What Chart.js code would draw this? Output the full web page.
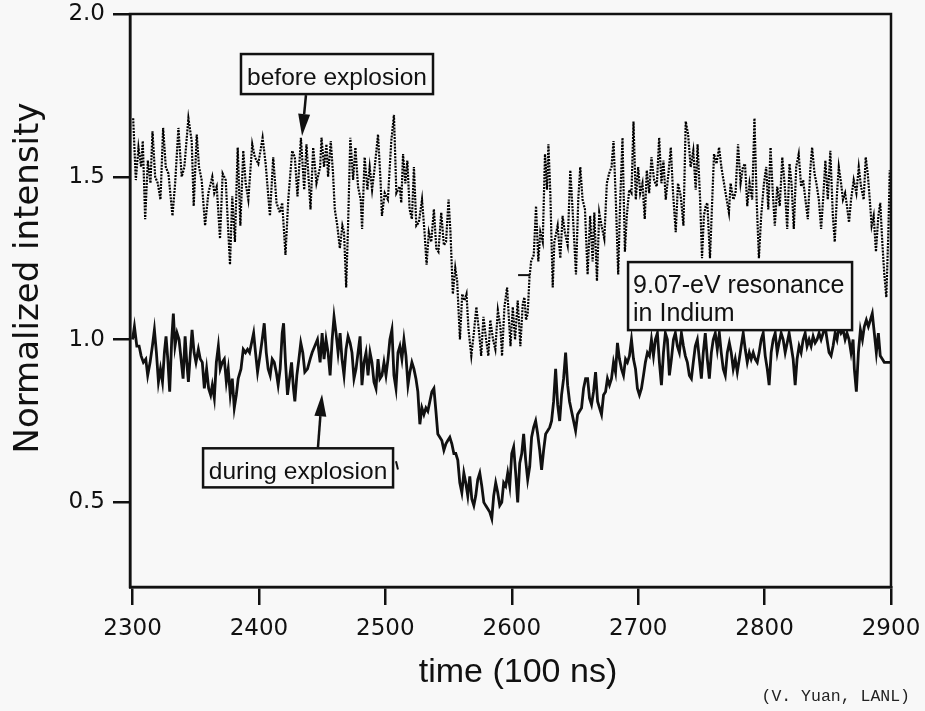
<!DOCTYPE html>
<html>
<head>
<meta charset="utf-8">
<script src="https://cdn.jsdelivr.net/npm/chart.js@4.4.1/dist/chart.umd.min.js"></script>
<style>
html,body{margin:0;padding:0;background:#f8f8f8;}
#wrap{width:925px;height:711px;position:relative;}
canvas{display:block;}
</style>
</head>
<body>
<div id="wrap"><canvas id="c" width="925" height="711"></canvas></div>
<script>
// ---- tick labels and titles ----
const xTicks = [2300, 2400, 2500, 2600, 2700, 2800, 2900];
const yTicks = [0.5, 1.0, 1.5, 2.0];
const xTitle = 'time (100 ns)';
const yTitle = 'Normalized intensity';
const seriesNames = ['before explosion', 'during explosion'];

// ---- "before explosion" (dotted) : time (100 ns) and normalized intensity ----
const beforeT = [
2300.5,2302.6,2304.7,2306.8,2308.1,2310.0,2312.1,2314.2,2315.8,2317.9,
2320.0,2322.1,2324.2,2326.3,2328.4,2331.6,2333.7,2336.3,2338.9,2341.0,
2344.2,2346.8,2348.4,2350.8,2352.6,2354.7,2357.4,2360.0,2363.1,2364.7,
2366.6,2369.2,2371.3,2373.7,2377.1,2378.9,2381.0,2383.2,2385.3,2387.6,
2389.5,2391.6,2394.7,2396.8,2399.5,2402.9,2405.3,2408.7,2411.3,2413.9,
2416.6,2418.4,2421.0,2423.2,2426.3,2428.4,2430.5,2433.2,2435.8,2437.6,
2440.8,2442.9,2445.5,2448.4,
2449.5,2451.5,2453.4,2454.7,2456.8,2458.6,2460.0,2462.0,2464.0,2466.0,
2467.3,2469.0,2470.5,2472.3,2474.5,2476.3,2478.4,2480.5,2481.6,2483.6,
2485.8,2487.6,2489.5,2491.6,2494.2,2496.3,2497.3,2499.5,2502.0,2504.7,
2506.8,2508.7,2511.3,2512.6,2514.0,2515.8,2517.4,2519.2,2521.0,2522.6,
2524.5,2526.5,2529.0,2531.0,2532.6,2534.4,2536.3,2538.4,2540.3,2542.0,
2544.2,2546.3,2548.0,2550.0,2551.5,2553.4,2555.3,2556.8,2559.0,2560.8,
2562.6,2564.2,2565.8,2568.0,2570.0,2572.0,2574.2,2575.8,2577.6,2579.7,
2581.5,2583.0,2585.2,2587.0,2589.0,2591.0,2592.3,2594.2,2596.3,
2599.0,2600.8,2602.6,2604.7,2606.8,2608.7,2610.0,2611.3,2612.6,2614.0,
2615.3,2617.4,2619.2,2621.0,2622.6,2624.5,2626.3,2627.9,2629.0,2630.5,
2632.4,2633.7,2636.3,2638.4,2640.2,2642.0,2644.2,2646.3,2648.1,2650.8,
2652.6,2654.2,2656.0,2657.9,2660.0,2662.0,2664.0,2665.3,2667.4,2669.2,
2671.0,2673.2,2675.2,2677.0,2678.9,2680.5,2682.3,2684.2,2685.8,2687.6,
2689.5,2691.0,2692.9,2694.7,2696.3,2698.1,2700.0,2701.6,2703.4,2705.2,
2706.8,2708.7,2710.5,2712.6,2714.7,2716.6,2718.4,2720.0,2721.8,2723.7,
2725.8,2727.6,2729.7,2731.5,2733.7,2735.8,2737.6,2739.5,2741.5,2743.6,
2745.5,
2747.0,2749.0,2750.5,2752.0,2753.4,2754.7,2756.8,2758.6,2760.0,2762.0,
2764.0,2765.8,2767.9,2770.0,2771.8,2773.1,2775.3,2777.0,2779.0,2781.0,
2782.9,2784.5,2786.3,2788.1,2790.2,2792.0,2793.7,2795.5,2797.3,2799.5,
2801.3,2802.9,2804.7,2806.5,2808.1,2810.0,2812.0,2814.0,2815.8,2817.9,
2819.7,2821.3,2823.1,2825.0,2827.0,2828.9,2830.5,2832.3,2834.2,2836.3,
2837.6,2839.5,2841.0,2842.9,2844.7,2846.3,2848.1,2850.0,2852.0,2854.0,
2855.5,2857.3,2858.7,2860.5,2862.0,2863.7,2865.2,2866.8,2868.4,2870.5,
2872.6,2874.5,2876.3,2878.4,2880.0,2881.6,2883.2,2884.7,2886.3,2888.1,
2890.0,2891.5,2893.1,2894.7,2896.3,2897.9,2899.0,2900.0
];
const beforeV = [
1.68,1.49,1.59,1.53,1.61,1.37,1.55,1.48,1.64,1.50,
1.48,1.43,1.65,1.53,1.51,1.38,1.48,1.65,1.50,1.53,
1.68,1.61,1.41,1.63,1.53,1.49,1.35,1.45,1.50,1.45,
1.47,1.31,1.51,1.49,1.23,1.44,1.30,1.59,1.35,1.58,
1.48,1.43,1.60,1.56,1.54,1.62,1.54,1.38,1.56,1.42,
1.39,1.42,1.26,1.43,1.58,1.56,1.44,1.62,1.46,1.60,
1.40,1.59,1.48,1.53,
1.62,1.53,1.60,1.50,1.61,1.51,1.40,1.35,1.28,1.35,
1.33,1.16,1.35,1.62,1.49,1.59,1.47,1.43,1.34,1.56,
1.46,1.53,1.46,1.53,1.63,1.48,1.38,1.45,1.43,1.61,
1.69,1.45,1.47,1.42,1.57,1.48,1.55,1.40,1.37,1.53,
1.35,1.36,1.43,1.33,1.23,1.33,1.30,1.40,1.28,1.27,
1.39,1.29,1.30,1.43,1.33,1.14,1.22,1.18,1.00,1.14,
1.12,1.14,1.03,0.95,1.02,1.10,1.02,0.95,1.07,1.00,
0.95,1.06,1.00,0.97,1.09,1.04,0.95,1.10,1.16,
0.98,1.10,1.00,1.12,0.98,1.11,1.13,1.06,1.08,1.19,
1.24,1.26,1.41,1.24,1.33,1.30,1.57,1.46,1.60,1.45,
1.16,1.30,1.35,1.25,1.38,1.33,1.29,1.52,1.40,1.20,
1.43,1.53,1.43,1.40,1.20,1.38,1.24,1.39,1.18,1.39,
1.35,1.31,1.48,1.51,1.53,1.61,1.43,1.20,1.43,1.62,
1.27,1.38,1.46,1.45,1.67,1.43,1.53,1.45,1.48,1.37,
1.52,1.45,1.56,1.49,1.47,1.62,1.48,1.55,1.43,1.50,
1.59,1.45,1.33,1.48,1.44,1.35,1.67,1.63,1.53,1.58,
1.46,
1.60,1.43,1.25,1.38,1.41,1.42,1.25,1.43,1.57,1.54,
1.59,1.53,1.48,1.43,1.39,1.48,1.43,1.45,1.60,1.48,
1.53,1.54,1.41,1.48,1.43,1.68,1.43,1.25,1.38,1.48,
1.53,1.40,1.59,1.45,1.35,1.47,1.41,1.56,1.48,1.34,
1.54,1.48,1.34,1.53,1.57,1.47,1.49,1.43,1.37,1.53,
1.59,1.51,1.48,1.43,1.34,1.43,1.55,1.43,1.58,1.38,
1.30,1.45,1.53,1.48,1.43,1.45,1.41,1.36,1.43,1.49,
1.45,1.53,1.47,1.43,1.56,1.51,1.43,1.35,1.38,1.27,
1.38,1.42,1.30,1.20,1.13,1.33,1.52,1.43
];

// ---- "during explosion" (solid) ----
const duringT = [
2300.0,2301.5,2303.4,2305.2,2306.8,2308.6,2310.5,2312.0,2313.9,2315.7,
2317.3,2318.9,2320.5,2322.1,2323.7,2325.2,2326.5,2327.9,2329.4,2331.0,
2332.3,2333.6,2335.2,2336.8,2338.4,2340.0,2341.6,2342.9,2344.2,2345.8,
2347.1,2348.7,2350.2,2352.1,2353.6,2355.2,2356.8,2358.6,2360.2,2361.8,
2363.1,2364.7,2366.3,2367.9,2369.4,2371.0,2372.6,2374.2,2375.7,2377.3,
2378.9,2380.5,2382.1,2383.6,2385.8,2387.6,2389.4,2391.0,2392.6,2394.2,
2395.8,2397.3,2398.9,2400.8,2402.6,2404.2,2405.8,2407.3,2408.9,2410.5,
2412.1,2413.7,2415.2,2416.8,2418.4,2419.5,2421.0,2422.6,2424.2,2425.8,
2427.3,2428.4,2430.0,2431.6,2433.1,2434.7,2436.3,2438.4,2440.5,2442.1,
2444.2,2446.3,
2448.4,2450.0,2451.5,2453.1,2454.7,2456.3,2457.9,2459.4,2461.0,2462.6,
2464.2,2465.7,2467.3,2468.9,2470.5,2472.1,2473.6,2475.2,2476.8,2478.4,
2480.0,2481.5,2483.1,2484.7,2486.3,2487.9,2489.4,2491.0,2492.6,2494.2,
2495.7,2497.3,2498.9,2500.5,2502.1,2503.6,2505.2,2506.8,2508.4,2510.0,
2511.5,2513.1,2514.7,2516.3,2517.9,2519.4,2521.0,2522.6,2524.2,2525.7,
2527.3,2528.9,2530.5,2532.1,2533.6,2535.2,2536.8,2538.4,2540.0,2541.5,
2543.1,2544.7,2546.3,2547.9,2549.4,2551.0,2552.6,2554.2,2555.7,2557.3,
2558.9,2560.5,2562.1,2563.6,2565.2,2566.8,2568.4,2570.0,2571.5,2573.1,
2574.7,2576.3,2577.9,2579.4,2581.0,2582.6,2584.2,2585.7,2587.3,2588.9,
2590.5,2592.1,2593.6,2595.2,2596.8,
2598.4,2600.0,2601.5,2603.1,2604.7,2606.3,2607.9,2609.4,2611.0,2612.6,
2614.2,2615.7,2617.3,2618.9,2620.5,2622.1,2623.6,2625.2,2626.8,2628.4,
2630.0,2631.5,2633.1,2634.7,2636.3,2637.9,2639.4,2641.0,2642.6,2644.2,
2645.7,2647.3,2648.9,2650.5,2652.1,2653.6,2655.2,2656.8,2658.4,2660.0,
2661.5,2663.1,2664.7,2666.3,2667.9,2669.4,2671.0,2672.6,2674.2,2675.7,
2677.3,2678.9,2680.5,2682.1,2683.6,2685.2,2686.8,2688.4,2690.0,2691.5,
2693.1,2694.7,2696.3,2697.9,2699.4,2701.0,2702.6,2704.2,2705.7,2707.3,
2708.9,2710.5,2712.1,2713.6,2715.2,2716.8,2718.4,2720.0,2721.5,2723.1,
2724.7,2726.3,2727.9,2729.4,2731.0,2732.6,2734.2,2735.8,2737.3,2738.9,
2740.5,2742.1,2743.6,2745.2,
2746.8,2748.4,2750.0,2751.5,2753.1,2754.7,2756.3,2757.9,2759.4,2761.0,
2762.6,2764.2,2765.7,2767.3,2768.9,2770.5,2772.1,2773.6,2775.2,2776.8,
2778.4,2780.0,2781.5,2783.1,2784.7,2786.3,2787.9,2789.4,2791.0,2792.6,
2794.2,2795.7,2797.3,2798.9,2800.5,2802.1,2803.6,2805.2,2806.8,2808.4,
2810.0,2811.5,2813.1,2814.7,2816.3,2817.9,2819.4,2821.0,2822.6,2824.2,
2825.7,2827.3,2828.9,2830.5,2832.1,2833.6,2835.2,2836.8,2838.4,2840.0,
2841.5,2843.1,2844.7,2846.3,2847.9,2849.4,2851.0,2852.6,2854.2,2855.8,
2857.3,2858.9,2860.5,2862.1,2863.7,2865.2,2866.8,2868.4,2870.0,2871.0,
2872.6,2874.2,2875.8,2877.4,2878.9,2880.5,2882.1,2883.7,2885.2,2886.8,
2888.4,2890.0,2891.5,2893.1,2894.7,2896.8,2899.4
];
const duringV = [
1.00,1.04,0.98,0.98,0.95,0.93,0.94,0.89,0.93,0.98,
1.03,0.96,0.87,0.91,0.87,0.96,1.01,0.94,0.84,1.00,
1.08,0.98,1.02,1.00,0.94,0.88,1.01,0.93,0.87,0.96,
1.03,0.96,0.93,0.97,0.94,0.93,0.85,0.91,0.85,0.83,
0.86,0.82,0.93,0.98,0.91,0.93,0.94,0.87,0.91,0.83,
0.88,0.79,0.83,0.88,0.91,0.97,0.96,0.97,0.96,0.99,
1.02,0.96,0.90,0.95,1.00,1.05,0.96,0.91,0.89,0.94,
0.93,0.90,0.86,0.91,1.02,1.05,0.93,0.83,0.88,0.93,
0.85,0.81,0.89,0.94,0.99,0.96,0.90,0.91,0.94,0.96,
0.98,1.00,
0.93,1.02,0.94,1.00,0.96,0.89,1.00,1.07,1.02,0.96,
1.02,0.94,0.89,0.97,1.01,0.99,0.96,0.88,0.91,0.96,
1.01,0.86,0.93,0.96,0.89,0.96,0.93,0.87,0.85,0.94,
0.88,0.89,0.93,0.89,0.94,1.00,1.03,0.89,0.85,0.96,
0.98,0.94,1.00,0.95,0.86,0.90,0.93,0.91,0.88,0.84,
0.74,0.79,0.77,0.79,0.78,0.81,0.84,0.85,0.78,0.71,
0.70,0.69,0.66,0.68,0.69,0.70,0.68,0.65,0.65,0.63,
0.56,0.53,0.59,0.56,0.52,0.58,0.51,0.49,0.52,0.57,
0.59,0.55,0.50,0.49,0.48,0.47,0.45,0.52,0.56,0.53,
0.49,0.50,0.56,0.55,0.59,
0.55,0.65,0.67,0.59,0.50,0.62,0.65,0.71,0.63,0.57,
0.61,0.70,0.73,0.75,0.71,0.66,0.60,0.66,0.71,0.72,
0.73,0.75,0.81,0.91,0.80,0.75,0.83,0.88,0.96,0.86,
0.81,0.78,0.75,0.72,0.77,0.78,0.79,0.85,0.88,0.88,
0.82,0.80,0.84,0.90,0.81,0.79,0.77,0.83,0.84,0.88,
0.86,0.88,0.93,0.90,0.99,0.94,0.91,0.89,0.94,0.93,
0.95,1.00,0.94,0.91,0.85,0.83,0.85,0.89,0.93,0.96,
0.95,1.00,0.95,1.00,1.02,0.93,0.86,0.96,1.02,1.00,
0.89,0.94,1.00,1.02,0.98,0.96,1.02,0.98,0.95,0.93,
0.89,0.88,0.93,0.98,
1.00,0.94,0.88,0.96,1.02,0.94,0.88,0.96,1.00,1.02,
0.97,1.02,0.96,0.91,0.89,0.96,0.99,0.96,0.91,0.94,
0.90,0.94,0.98,1.02,0.97,0.93,0.96,0.94,0.96,0.94,
0.93,0.96,1.00,1.02,0.95,0.91,0.86,0.96,1.00,1.02,
0.96,0.99,1.02,1.00,0.96,0.99,1.02,0.98,0.94,0.86,
0.94,0.98,0.96,1.00,1.02,0.98,1.00,0.98,1.01,0.99,
1.00,1.02,1.00,1.02,1.04,1.00,0.96,0.95,0.98,1.02,
1.00,1.04,1.02,1.03,1.00,1.02,1.00,0.96,1.00,0.91,
0.84,0.96,1.03,1.00,1.04,1.06,1.04,1.06,1.08,1.02,
0.96,1.02,0.95,0.94,0.93,0.93,0.93
];

// ---- annotations (anchored in data units) ----
const noteBoxes = [
  {lines:['before explosion'], t0:2385.8, t1:2537.7, v0:1.877, v1:1.754, align:'center', size:24.5},
  {lines:['during explosion'], t0:2355.8, t1:2506.1, v0:0.666, v1:0.546, align:'center', size:24.5},
  {lines:['9.07-eV resonance','in Indium'], t0:2692.0, t1:2869.2, v0:1.238, v1:1.029, align:'left', size:25}
];
const noteArrows = [
  {from:[2437.2,1.751], to:[2434.1,1.625]},
  {from:[2446.7,0.669], to:[2449.9,0.832]}
];
const noteMarks = [
  {from:[2605.0,1.198], to:[2614.5,1.198]},
  {from:[2508.4,0.626], to:[2510.0,0.601]}
];
const creditText = '(V. Yuan, LANL)';

function pairs(ts, vs){
  const n = Math.min(ts.length, vs.length);
  const out = [];
  for (let i = 0; i < n; i++) out.push({x: ts[i], y: vs[i]});
  return out;
}

const INK = '#111111';
const BG = '#f8f8f8';
const decor = {
  id: 'decor',
  beforeDraw(chart){
    const c = chart.ctx;
    c.save(); c.fillStyle = BG; c.fillRect(0, 0, chart.width, chart.height); c.restore();
  },
  afterDatasetsDraw(chart){
    const c = chart.ctx, a = chart.chartArea, xs = chart.scales.x, ys = chart.scales.y;
    const px = t => xs.getPixelForValue(t), py = v => ys.getPixelForValue(v);
    c.save();
    // plot frame
    c.strokeStyle = INK; c.lineWidth = 2.5;
    c.strokeRect(a.left, a.top, a.right - a.left, a.bottom - a.top);
    // boxes
    noteBoxes.forEach(b => {
      const x0 = px(b.t0), x1 = px(b.t1), y0 = py(b.v0), y1 = py(b.v1);
      c.fillStyle = BG;
      c.fillRect(x0, y0, x1 - x0, y1 - y0);
      c.lineWidth = 2.5; c.strokeStyle = INK;
      c.strokeRect(x0, y0, x1 - x0, y1 - y0);
      c.fillStyle = INK;
      c.font = b.size + 'px "Liberation Sans", Arial, sans-serif';
      c.textBaseline = 'alphabetic';
      b.lines.forEach((s, i) => {
        const yy = y0 + 31 + i * 28;
        if (b.align === 'center') { c.textAlign = 'center'; c.fillText(s, (x0 + x1) / 2, yy); }
        else { c.textAlign = 'left'; c.fillText(s, x0 + 5, yy); }
      });
    });
    // arrows
    noteArrows.forEach(ar => {
      const xA = px(ar.from[0]), yA = py(ar.from[1]), xB = px(ar.to[0]), yB = py(ar.to[1]);
      const ang = Math.atan2(yB - yA, xB - xA), L = 22, W = 6;
      const bx = xB - L * Math.cos(ang), by = yB - L * Math.sin(ang);
      c.strokeStyle = INK; c.lineWidth = 2.5;
      c.beginPath(); c.moveTo(xA, yA); c.lineTo(bx, by); c.stroke();
      c.fillStyle = INK;
      c.beginPath();
      c.moveTo(xB, yB);
      c.lineTo(bx + W * Math.sin(ang), by - W * Math.cos(ang));
      c.lineTo(bx - W * Math.sin(ang), by + W * Math.cos(ang));
      c.closePath(); c.fill();
    });
    // small marks
    noteMarks.forEach(m => {
      c.strokeStyle = INK; c.lineWidth = 2;
      c.beginPath(); c.moveTo(px(m.from[0]), py(m.from[1])); c.lineTo(px(m.to[0]), py(m.to[1])); c.stroke();
    });
    c.restore();
  },
  afterDraw(chart){
    const c = chart.ctx;
    c.save();
    c.fillStyle = INK;
    // axis titles
    c.font = '34px "Liberation Sans", Arial, sans-serif';
    c.textAlign = 'center'; c.textBaseline = 'alphabetic';
    c.fillText(xTitle, 518, 682);
    c.save();
    c.translate(29, 278);
    c.rotate(-Math.PI / 2);
    c.font = '34px "DejaVu Sans", sans-serif';
    c.textBaseline = 'middle';
    c.fillText(yTitle, 0, 0);
    c.restore();
    // credit
    c.fillStyle = '#222';
    c.font = '16.5px "Liberation Mono", "DejaVu Sans Mono", monospace';
    c.textAlign = 'right'; c.textBaseline = 'alphabetic';
    c.fillText(creditText, 910, 701);
    c.restore();
  }
};

new Chart(document.getElementById('c'), {
  type: 'line',
  data: {
    datasets: [
      { label: seriesNames[0], data: pairs(beforeT, beforeV), borderColor: '#000', borderWidth: 2.2,
        borderDash: [2, 1.2], pointRadius: 0, tension: 0, fill: false },
      { label: seriesNames[1], data: pairs(duringT, duringV), borderColor: INK, borderWidth: 2.8,
        pointRadius: 0, tension: 0, fill: false }
    ]
  },
  options: {
    responsive: false,
    devicePixelRatio: 1,
    animation: false,
    events: [],
    layout: { padding: { top: 14, right: 34, left: 0, bottom: 0 } },
    plugins: { legend: { display: false }, tooltip: { enabled: false } },
    scales: {
      x: {
        type: 'linear', min: 2298, max: 2900,
        afterBuildTicks: s => { s.ticks = xTicks.map(v => ({ value: v })); },
        afterFit: s => { s.height = 124; s.paddingLeft = 0; s.paddingRight = 0; },
        ticks: { font: { family: '"DejaVu Sans"', size: 23 }, color: INK, padding: 10, maxRotation: 0,
                 callback: v => String(v) },
        grid: { display: true, drawOnChartArea: false, drawTicks: true, tickLength: 18, color: INK, lineWidth: 2.5 },
        border: { display: true, color: INK, width: 2.5 },
        title: { display: false, text: xTitle }
      },
      y: {
        type: 'linear', min: 0.24, max: 2.0,
        afterBuildTicks: s => { s.ticks = yTicks.map(v => ({ value: v })); },
        afterFit: s => { s.width = 130; s.paddingTop = 0; s.paddingBottom = 0; },
        ticks: { font: { family: '"DejaVu Sans"', size: 23 }, color: INK, padding: 8,
                 callback: v => Number(v).toFixed(1) },
        grid: { display: true, drawOnChartArea: false, drawTicks: true, tickLength: 17, color: INK, lineWidth: 2.5 },
        border: { display: true, color: INK, width: 2.5 },
        title: { display: false, text: yTitle }
      }
    }
  },
  plugins: [decor]
});
</script>
</body>
</html>
